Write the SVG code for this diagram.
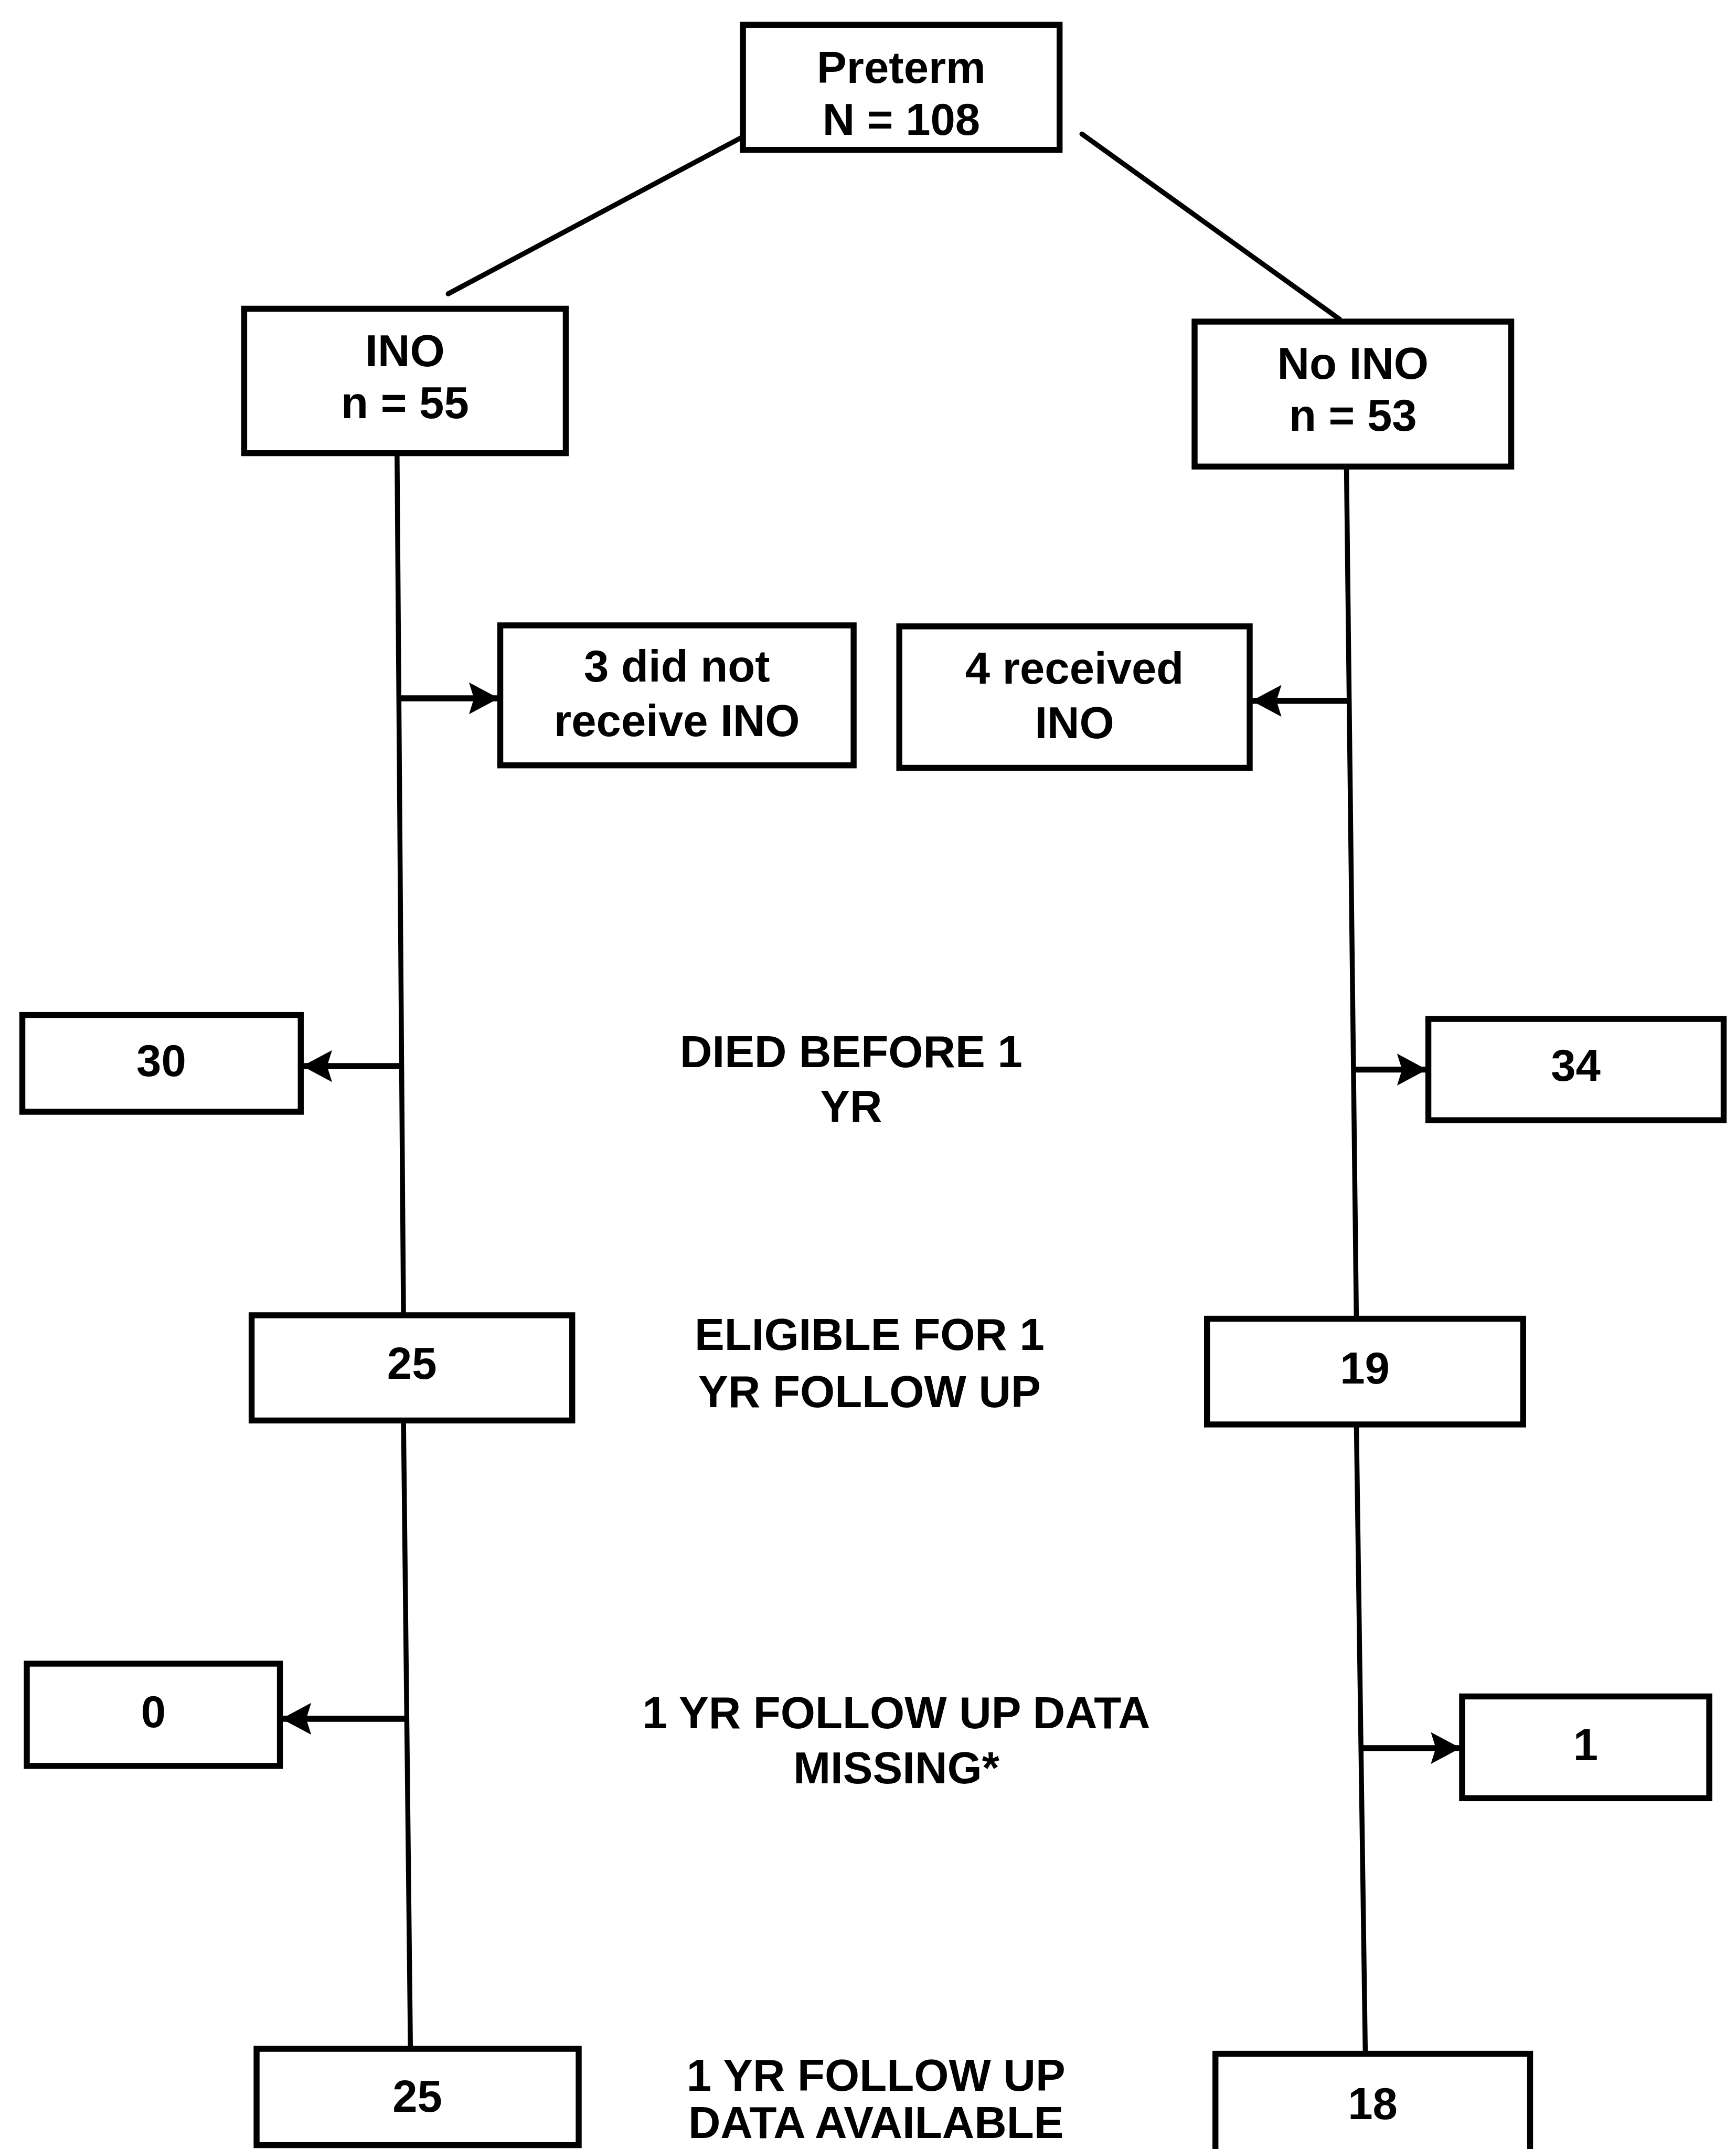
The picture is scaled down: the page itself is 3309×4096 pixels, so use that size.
<svg xmlns="http://www.w3.org/2000/svg" width="3309" height="4096" viewBox="0 0 3309 4096">
<style>
.box{fill:#fff;stroke:#000;stroke-width:12}
.ln{fill:none;stroke:#000;stroke-width:10;stroke-linecap:round}
.ar{fill:none;stroke:#000;stroke-width:12}
text{font-family:"Liberation Sans",Arial,sans-serif;font-weight:bold;font-size:90px;fill:#000;text-anchor:middle}
</style>
<defs>
<marker id="ah" markerUnits="userSpaceOnUse" markerWidth="62" markerHeight="64" refX="60" refY="32" orient="auto">
<path d="M0,0 L60,32 L0,64 L10,32 Z" fill="#000"/>
</marker>
</defs>
<rect width="3309" height="4096" fill="#fff"/>
<g transform="scale(0.946)">
<g id="connectors">
<line class="ln" x1="1496" y1="276" x2="903" y2="592"/>
<line class="ln" x1="2180" y1="270" x2="2699" y2="643"/>
<line class="ln" x1="800" y1="913" x2="813" y2="2650"/>
<line class="ln" x1="813" y1="2862" x2="827" y2="4128"/>
<line class="ln" x1="2713" y1="940" x2="2733" y2="2657"/>
<line class="ln" x1="2733" y1="2870" x2="2751" y2="4138"/>
<line class="ar" x1="804" y1="1407" x2="1005" y2="1407" marker-end="url(#ah)"/>
<line class="ar" x1="2718" y1="1412" x2="2522" y2="1412" marker-end="url(#ah)"/>
<line class="ar" x1="809" y1="2148" x2="609" y2="2148" marker-end="url(#ah)"/>
<line class="ar" x1="2727" y1="2155" x2="2875" y2="2155" marker-end="url(#ah)"/>
<line class="ar" x1="820" y1="3463" x2="567" y2="3463" marker-end="url(#ah)"/>
<line class="ar" x1="2742" y1="3522" x2="2943" y2="3522" marker-end="url(#ah)"/>
</g>
<g id="preterm"><rect class="box" x="1497" y="50" width="638" height="252"/><text x="1816" y="167">Preterm</text><text x="1816" y="272">N = 108</text></g>
<g id="ino"><rect class="box" x="492" y="622" width="648" height="291"/><text x="816" y="738">INO</text><text x="816" y="843">n = 55</text></g>
<g id="no-ino"><rect class="box" x="2407" y="648" width="638" height="292"/><text x="2726" y="763">No INO</text><text x="2726" y="868">n = 53</text></g>
<g id="did-not-receive"><rect class="box" x="1008" y="1260" width="712" height="282"/><text x="1364" y="1373">3 did not</text><text x="1364" y="1483">receive INO</text></g>
<g id="received"><rect class="box" x="1812" y="1262" width="706" height="285"/><text x="2165" y="1377">4 received</text><text x="2165" y="1487">INO</text></g>
<g id="died-ino"><rect class="box" x="45" y="2045" width="561" height="195"/><text x="325" y="2168">30</text></g>
<g id="died-label"><text x="1715" y="2150">DIED BEFORE 1</text><text x="1715" y="2260">YR</text></g>
<g id="died-noino"><rect class="box" x="2878" y="2053" width="595" height="204"/><text x="3175" y="2178">34</text></g>
<g id="eligible-ino"><rect class="box" x="507" y="2650" width="646" height="212"/><text x="830" y="2778">25</text></g>
<g id="eligible-label"><text x="1752" y="2720">ELIGIBLE FOR 1</text><text x="1752" y="2835">YR FOLLOW UP</text></g>
<g id="eligible-noino"><rect class="box" x="2432" y="2657" width="637" height="213"/><text x="2750" y="2787">19</text></g>
<g id="missing-ino"><rect class="box" x="54" y="3352" width="510" height="206"/><text x="309" y="3480">0</text></g>
<g id="missing-label"><text x="1806" y="3482">1 YR FOLLOW UP DATA</text><text x="1806" y="3593">MISSING*</text></g>
<g id="missing-noino"><rect class="box" x="2946" y="3418" width="498" height="205"/><text x="3195" y="3547">1</text></g>
<g id="available-ino"><rect class="box" x="517" y="4128" width="649" height="194"/><text x="841" y="4255">25</text></g>
<g id="available-label"><text x="1765" y="4212">1 YR FOLLOW UP</text><text x="1765" y="4308">DATA AVAILABLE</text></g>
<g id="available-noino"><rect class="box" x="2449" y="4138" width="634" height="220"/><text x="2766" y="4270">18</text></g>
</g>
</svg>
